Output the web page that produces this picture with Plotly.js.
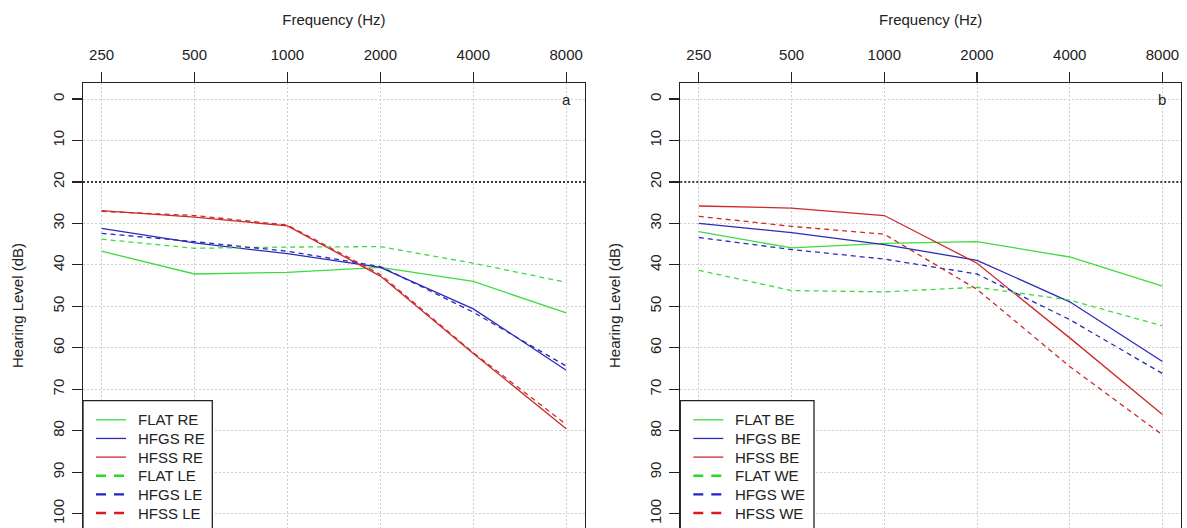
<!DOCTYPE html>
<html>
<head>
<meta charset="utf-8">
<script src="https://cdn.plot.ly/plotly-3.0.1.min.js"></script>
<style>html,body{margin:0;padding:0;background:#fff;overflow:hidden}#chart{width:1187px;height:528px}</style>
</head>
<body>
<div id="chart"></div>
<script>
// ---- data ----
const freqs = [250, 500, 1000, 2000, 4000, 8000];
const freqLabels = ['250', '500', '1000', '2000', '4000', '8000'];
const dbTicks = [0, 10, 20, 30, 40, 50, 60, 70, 80, 90, 100];
const normalLimit = 20;

// panel a : right ear / left ear
const namesA = ['FLAT RE', 'HFGS RE', 'HFSS RE', 'FLAT LE', 'HFGS LE', 'HFSS LE'];
const flatRE = [36.7, 42.2, 41.8, 40.6, 44.0, 51.6];
const hfgsRE = [31.2, 34.7, 37.3, 40.6, 50.6, 65.4];
const hfssRE = [26.9, 28.5, 30.6, 42.7, 61.4, 79.5];
const flatLE = [33.8, 36.0, 35.7, 35.6, 39.6, 44.2];
const hfgsLE = [32.4, 34.4, 36.7, 40.4, 51.4, 64.4];
const hfssLE = [27.1, 28.1, 30.4, 42.3, 61.2, 78.5];

// panel b : better ear / worse ear
const namesB = ['FLAT BE', 'HFGS BE', 'HFSS BE', 'FLAT WE', 'HFGS WE', 'HFSS WE'];
const flatBE = [32.0, 35.9, 34.8, 34.4, 38.1, 45.1];
const hfgsBE = [30.0, 32.2, 35.1, 38.9, 48.9, 63.3];
const hfssBE = [25.8, 26.3, 28.1, 39.6, 57.6, 76.1];
const flatWE = [41.3, 46.2, 46.5, 45.4, 48.5, 54.7];
const hfgsWE = [33.4, 36.3, 38.6, 42.2, 53.2, 66.2];
const hfssWE = [28.3, 30.7, 32.6, 45.9, 64.5, 81.0];

const panelLetters = ['a', 'b'];

// ---- styling ----
const FONT = 'Liberation Sans, Arial, sans-serif';
const TXT = '#222';
const colors = ['#3ddc3d', '#2b2bb8', '#cc2a2a'];
const legendColors = ['#22dd22', '#2222cc', '#dd1a1a'];
const DASH = '5px,4px';
const LW = 1.3;

const seriesA = [flatRE, hfgsRE, hfssRE, flatLE, hfgsLE, hfssLE];
const seriesB = [flatBE, hfgsBE, hfssBE, flatWE, hfgsWE, hfssWE];

const traces = [];
function addPanel(series, names, xa, ya) {
  series.forEach((vals, i) => {
    traces.push({
      x: freqs, y: vals, type: 'scatter', mode: 'lines', name: names[i],
      xaxis: xa, yaxis: ya, showlegend: false, hoverinfo: 'skip',
      line: {color: colors[i % 3], width: LW, dash: i < 3 ? 'solid' : DASH}
    });
  });
}
addPanel(seriesA, namesA, 'x', 'y');
addPanel(seriesB, namesB, 'x2', 'y2');

const ext = 0.2 * Math.log10(2);
const xr = [Math.log10(freqs[0]) - ext, Math.log10(freqs[freqs.length - 1]) + ext];

function xaxis(domain, anchor) {
  return {
    domain: domain, anchor: anchor, type: 'log', side: 'top', range: xr,
    tickvals: freqs, ticktext: freqLabels, ticks: 'outside', ticklen: 10,
    tickwidth: 1.2, tickcolor: TXT, ticklabelstandoff: 6,
    tickfont: {family: FONT, size: 15, color: TXT},
    showline: true, linecolor: TXT, linewidth: 1.3, mirror: false,
    showgrid: true, gridcolor: '#d0d0d0', gridwidth: 1, griddash: '2px,2px',
    zeroline: false, fixedrange: true,
    title: {text: 'Frequency (Hz)', font: {family: FONT, size: 15, color: TXT}, standoff: 16}
  };
}
function yaxis(anchor) {
  return {
    anchor: anchor, range: [103.45, -3.86], tickvals: dbTicks,
    ticks: 'outside', ticklen: 10, tickwidth: 1.2, tickcolor: TXT, tickangle: -90,
    ticklabelstandoff: 2,
    tickfont: {family: FONT, size: 15, color: TXT},
    showline: true, linecolor: TXT, linewidth: 1.3, mirror: true,
    showgrid: true, gridcolor: '#d0d0d0', gridwidth: 1, griddash: '2px,2px',
    zeroline: false, fixedrange: true,
    title: {text: 'Hearing Level (dB)', font: {family: FONT, size: 15, color: TXT}, standoff: 22}
  };
}

// plot geometry in page pixels (margins below)
const ML = 83, MR = 6, MT = 83, MB = 0, W = 1187, H = 528;
const PW = W - ML - MR, PH = H - MT - MB;
const px = v => (v - ML) / PW;
const py = v => (H - MB - v) / PH;

const domA = [0, px(584.8)];
const domB = [px(680.3), 1];

const shapes = [
  {type: 'line', xref: 'x domain', yref: 'y', x0: 0, x1: 1, y0: normalLimit, y1: normalLimit,
   line: {color: '#000', width: 1.5, dash: '2px,2px'}},
  {type: 'line', xref: 'x2 domain', yref: 'y2', x0: 0, x1: 1, y0: normalLimit, y1: normalLimit,
   line: {color: '#000', width: 1.5, dash: '2px,2px'}}
];
const annotations = [
  {xref: 'x', yref: 'y', x: Math.log10(freqs[5]), y: 0, text: panelLetters[0], showarrow: false,
   font: {family: FONT, size: 15, color: TXT}},
  {xref: 'x2', yref: 'y2', x: Math.log10(freqs[5]), y: 0, text: panelLetters[1], showarrow: false,
   font: {family: FONT, size: 15, color: TXT}}
];

// legend boxes (R-style legend, cut by the bottom of the picture)
function addLegend(names, left, right) {
  const top = 400.7, first = 419.8, step = 18.65;
  shapes.push({type: 'rect', xref: 'paper', yref: 'paper', x0: px(left), x1: px(right),
    y0: py(top), y1: py(560), fillcolor: '#fff', line: {color: TXT, width: 1.3}, layer: 'above'});
  names.forEach((nm, i) => {
    const yy = py(first + i * step);
    const dashed = i >= 3;
    shapes.push({type: 'line', xref: 'paper', yref: 'paper',
      x0: px(left + 13), x1: px(left + 43), y0: yy, y1: yy,
      line: {color: dashed ? legendColors[i % 3] : colors[i % 3], width: dashed ? 2.4 : 1.3,
             dash: dashed ? '10px,8px' : 'solid'}});
    annotations.push({xref: 'paper', yref: 'paper', x: px(left + 54), y: yy, xanchor: 'left',
      yanchor: 'middle', text: nm, showarrow: false, borderpad: 0,
      font: {family: FONT, size: 15, color: TXT}});
  });
}
addLegend(namesA, 83, 212.3);
addLegend(namesB, 680.3, 814);

const layout = {
  width: W, height: H,
  margin: {l: ML, r: MR, t: MT, b: MB, pad: 0, autoexpand: false},
  paper_bgcolor: '#fff', plot_bgcolor: '#fff',
  showlegend: false,
  xaxis: xaxis(domA, 'y'), yaxis: yaxis('x'),
  xaxis2: xaxis(domB, 'y2'), yaxis2: yaxis('x2'),
  shapes: shapes,
  annotations: annotations
};

Plotly.newPlot('chart', traces, layout, {displayModeBar: false, staticPlot: true});
</script>
</body>
</html>
